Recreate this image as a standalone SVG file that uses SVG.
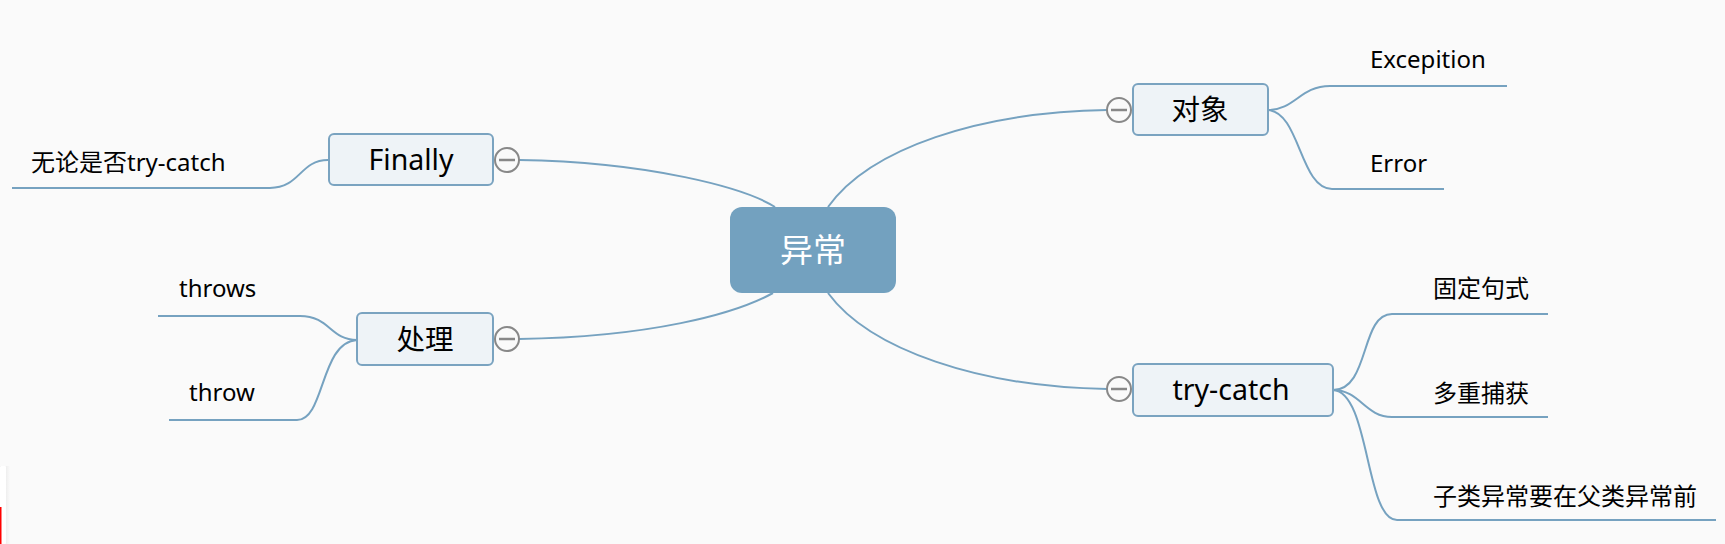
<svg xmlns="http://www.w3.org/2000/svg" width="1725" height="544" viewBox="0 0 1725 544">
<style>
text{font-family:"Noto Sans","Noto Sans CJK SC",sans-serif;fill:#000}
.topic{fill:#eef3f7;stroke:#7aa3c0;stroke-width:2}
.topic-t{font-size:28.5px;text-anchor:middle}
.sub{font-size:24px}
.cjk{font-size:24px}
.conn path{fill:none;stroke:#76a2c0;stroke-width:2}
.col circle{fill:#fafafa;stroke:#888;stroke-width:2}
.col line{stroke:#888;stroke-width:2.5}
</style>
<rect width="1725" height="544" fill="#fafafa"/>
<defs>
<linearGradient id="sh" x1="0" x2="1" y1="0" y2="0"><stop offset="0" stop-color="#ddd"/><stop offset="1" stop-color="#fafafa"/></linearGradient>
</defs>
<rect x="0" y="466" width="10" height="78" fill="url(#sh)"/>
<rect x="0" y="466" width="6" height="78" rx="1" fill="#fff"/>
<rect x="0" y="507" width="1.5" height="37" fill="#f00"/>

<g id="connectors" class="conn">
<path d="M775,207 C745,188 650,162 519,160"/>
<path d="M828,207 C870,148 980,112 1107,110"/>
<path d="M773,293 C735,314 650,337 519,339"/>
<path d="M828,293 C870,350 980,387 1107,389"/>
<path d="M1268,110 C1295,110 1300,86 1330,86 L1507,86"/>
<path d="M1268,110 C1300,112 1300,189 1332,189 L1444,189"/>
<path d="M328,160 C300,160 300,188 270,188 L12,188"/>
<path d="M357,340 C330,340 330,316 300,316 L158,316"/>
<path d="M357,340 C320,342 325,420 297,420 L169,420"/>
<path d="M1333,390 C1370,390 1360,314 1392,314 L1548,314"/>
<path d="M1333,390 C1360,390 1365,417 1392,417 L1548,417"/>
<path d="M1333,390 C1370,392 1365,520 1397,520 L1716,520"/>
</g>

<g id="center">
<rect x="730" y="207" width="166" height="86" rx="12" fill="#73a1bf"/>
<text x="813" y="262" font-size="33" text-anchor="middle" style="fill:#fff">异常</text>
</g>

<g id="node-duixiang">
<rect class="topic" x="1133" y="84" width="135" height="51" rx="5"/>
<text class="topic-t" x="1200" y="120">对象</text>
<g class="col"><circle cx="1119" cy="110" r="12"/><line x1="1111" y1="110" x2="1127" y2="110"/></g>
</g>
<g id="node-finally">
<rect class="topic" x="329" y="134" width="164" height="51" rx="5"/>
<text class="topic-t" x="411" y="170">Finally</text>
<g class="col"><circle cx="507" cy="160" r="12"/><line x1="499" y1="160" x2="515" y2="160"/></g>
</g>
<g id="node-chuli">
<rect class="topic" x="357" y="313" width="136" height="52" rx="5"/>
<text class="topic-t" x="425" y="350">处理</text>
<g class="col"><circle cx="507" cy="339" r="12"/><line x1="499" y1="339" x2="515" y2="339"/></g>
</g>
<g id="node-trycatch">
<rect class="topic" x="1133" y="364" width="200" height="52" rx="5"/>
<text class="topic-t" x="1231" y="400">try-catch</text>
<g class="col"><circle cx="1119" cy="389" r="12"/><line x1="1111" y1="389" x2="1127" y2="389"/></g>
</g>

<g id="leaf-exception"><text class="sub" x="1370" y="68">Excepition</text></g>
<g id="leaf-error"><text class="sub" x="1370" y="172">Error</text></g>
<g id="leaf-wulun"><text class="cjk" x="31" y="171">无论是否try-catch</text></g>
<g id="leaf-throws"><text class="sub" x="179" y="297">throws</text></g>
<g id="leaf-throw"><text class="sub" x="189" y="401">throw</text></g>
<g id="leaf-guding"><text class="cjk" x="1433" y="297">固定句式</text></g>
<g id="leaf-duochong"><text class="cjk" x="1433" y="402">多重捕获</text></g>
<g id="leaf-zilei"><text class="cjk" x="1433" y="505">子类异常要在父类异常前</text></g>
</svg>
